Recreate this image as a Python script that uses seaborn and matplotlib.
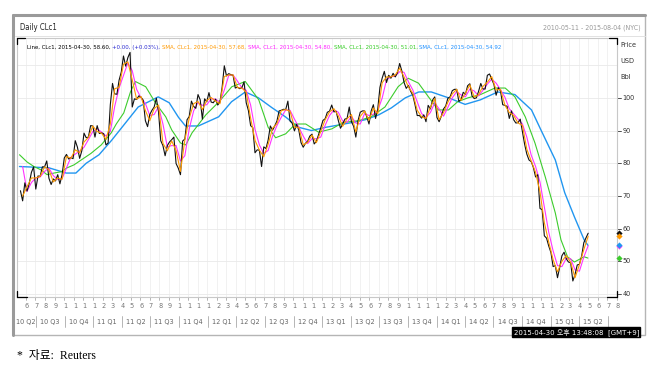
import matplotlib
matplotlib.use("Agg")
import matplotlib.pyplot as plt
import matplotlib.transforms as mtrans
from matplotlib.lines import Line2D
from matplotlib.patches import Rectangle
from matplotlib import font_manager
import pandas as pd
import seaborn as sns

# ---------------- data ----------------
price_2010 = [71.6, 68.5, 74.0, 71.5, 73.8, 77.2, 78.9, 72.1, 76.1, 76.0,
              78.9, 78.9, 80.7, 75.4, 73.5, 75.2, 74.6, 76.5, 73.7, 76.5,
              81.6, 82.7, 81.3, 81.7, 81.4, 86.9, 84.9, 81.5, 83.8, 89.2,
              87.8, 88.0, 91.5, 91.4]
price_2011 = [88.0, 91.5, 89.1, 89.3, 89.0, 85.6, 86.2, 97.9, 104.4, 101.2,
              101.1, 105.4, 107.9, 112.8, 109.7, 112.3, 113.9, 97.2, 99.7, 99.5,
              100.6, 100.2, 99.3, 93.0, 91.2, 94.9, 96.2, 97.2, 99.9, 95.7,
              86.9, 85.4, 82.3, 85.4, 86.5, 87.2, 88.0, 79.9, 78.5, 76.5,
              86.8, 87.4, 93.3, 94.3, 99.0, 97.4, 96.8, 101.0, 99.4, 93.5,
              99.7, 98.8]
price_2012 = [101.6, 98.7, 98.5, 99.6, 97.8, 98.7, 103.2, 109.8, 106.7, 107.4,
              107.1, 106.9, 103.0, 103.3, 102.8, 103.1, 104.9, 98.5, 96.1, 91.5,
              90.9, 83.2, 84.1, 84.0, 79.0, 85.0, 84.5, 87.1, 91.4, 90.1,
              91.4, 92.9, 96.0, 96.2, 96.5, 96.4, 99.0, 92.9, 92.2, 89.9,
              91.9, 90.1, 86.3, 84.9, 86.1, 86.7, 88.3, 88.9, 85.9, 86.7,
              88.7, 90.8]
price_2013 = [93.1, 93.6, 95.6, 95.9, 97.8, 95.7, 95.9, 93.1, 90.7, 92.0,
              93.5, 93.7, 97.2, 92.7, 91.3, 88.0, 93.0, 95.6, 96.0, 96.0,
              94.2, 92.0, 96.0, 97.9, 93.7, 96.6, 103.2, 106.0, 108.1, 104.7,
              106.9, 106.0, 107.5, 106.4, 107.7, 110.5, 108.2, 104.7, 102.9, 103.8,
              102.0, 100.8, 97.9, 94.6, 94.6, 93.8, 94.8, 92.7, 97.7, 96.6,
              99.3, 100.3]
price_2014 = [94.0, 92.7, 94.4, 96.6, 97.5, 99.9, 100.3, 102.2, 102.6, 102.6,
              98.9, 99.5, 101.7, 101.1, 103.7, 104.3, 100.6, 99.8, 100.0, 102.0,
              104.4, 102.7, 102.7, 106.9, 107.3, 105.7, 104.1, 100.8, 103.1, 102.1,
              97.9, 97.7, 97.4, 93.7, 96.0, 93.3, 92.3, 92.4, 93.5, 89.7,
              85.8, 82.8, 81.0, 80.5, 78.7, 75.8, 76.5, 66.2, 65.8, 57.8,
              57.1, 54.7]
price_2015 = [52.7, 48.4, 48.7, 45.0, 48.2, 51.7, 52.8, 50.8, 49.8, 49.6,
              44.0, 46.0, 48.9, 49.1, 51.6, 55.7, 57.2, 58.6]

# short SMA (orange), every second week
sma_orange = [70.0, 72.8, 75.5, 75.5, 76.0, 78.9, 78.0, 74.3, 75.5, 75.1, 82.1, 81.5, 84.1, 83.2, 86.5, 87.9, 91.4,
              89.7, 89.2, 87.3, 92.0, 102.8, 103.2, 110.3, 111.0, 105.5, 99.6, 100.4, 96.1, 93.0, 96.7, 97.8, 86.1,
              83.8, 86.8, 83.9, 77.5, 87.1, 93.8, 98.2, 98.9, 96.4, 99.2,
              100.1, 99.0, 98.2, 106.5, 107.0, 107.0, 103.1, 103.0, 101.7, 93.8, 87.0, 84.0, 82.0, 85.8, 90.7, 92.1,
              96.1, 96.4, 95.9, 91.0, 91.0, 85.6, 86.4, 88.6, 86.3, 89.7,
              93.3, 95.7, 96.7, 94.5, 91.3, 93.6, 94.9, 89.6, 94.3, 96.0, 93.1, 96.9, 95.1, 104.6, 106.4, 106.4,
              107.0, 109.1, 106.4, 103.3, 101.4, 96.2, 94.2, 93.7, 97.1, 99.8,
              93.3, 95.5, 98.7, 101.2, 102.6, 99.2, 101.4, 104.0, 100.2, 101.0, 103.5, 104.8, 106.5, 102.4, 102.6,
              97.8, 95.5, 94.6, 92.3, 91.6, 84.3, 80.7, 77.2, 71.3, 61.8, 55.9,
              50.5, 46.8, 50.0, 51.8, 49.7, 45.0, 49.0, 53.6, 57.68]
# medium SMA (magenta), every second week
sma_magenta = [79.0, 71.4, 74.1, 75.5, 75.8, 77.5, 78.5, 76.2, 75.0, 75.3, 78.6, 81.8, 82.8, 83.7, 84.9, 87.2, 89.7,
               90.6, 89.5, 88.3, 89.7, 97.4, 103.0, 106.8, 110.7, 108.3, 102.6, 100.0, 98.3, 94.6, 94.9, 97.3, 92.0,
               85.0, 85.4, 85.4, 80.7, 82.3, 90.5, 96.0, 98.6, 97.7, 97.9,
               99.7, 99.6, 98.7, 102.4, 106.8, 107.0, 105.1, 103.1, 102.3, 97.8, 90.4, 85.6, 83.0, 83.9, 88.3, 91.5,
               94.1, 96.3, 96.2, 93.5, 91.0, 88.3, 86.0, 87.5, 87.5, 88.0,
               91.6, 94.6, 96.3, 95.6, 92.9, 92.5, 94.3, 92.3, 92.0, 95.2, 94.6, 95.0, 96.1, 99.9, 105.5, 106.4,
               106.7, 108.0, 107.8, 104.9, 102.4, 98.8, 95.2, 94.0, 95.5, 98.5,
               96.6, 94.4, 97.1, 100.0, 101.9, 100.9, 100.3, 102.7, 102.1, 100.6, 102.3, 104.2, 105.7, 104.5, 102.5,
               100.2, 96.7, 95.1, 93.5, 92.0, 88.0, 82.5, 79.0, 74.3, 66.6, 58.9,
               53.2, 48.7, 48.4, 50.9, 50.8, 47.4, 47.0, 51.3, 54.80]

green_dates = ['2010-05-11', '2010-06-04', '2010-06-26', '2010-07-18', '2010-08-07', '2010-08-29',
               '2010-09-21', '2010-10-10', '2010-11-01', '2010-11-24', '2010-12-25', '2011-01-27',
               '2011-02-28', '2011-03-16', '2011-04-09', '2011-05-01', '2011-05-16', '2011-06-18',
               '2011-07-19', '2011-08-21', '2011-09-09', '2011-10-07', '2011-10-24', '2011-11-13',
               '2011-12-27', '2012-02-07', '2012-03-19', '2012-05-01', '2012-06-13', '2012-07-13',
               '2012-08-06', '2012-09-07', '2012-10-08', '2012-11-10', '2012-12-21', '2013-02-01',
               '2013-03-10', '2013-04-27', '2013-06-07', '2013-07-21', '2013-09-01', '2013-10-03',
               '2013-11-05', '2013-12-07', '2014-01-07', '2014-02-09', '2014-03-10', '2014-04-12',
               '2014-05-22', '2014-07-07', '2014-08-09', '2014-09-09', '2014-10-12', '2014-11-12',
               '2014-12-15', '2015-01-16', '2015-02-03', '2015-02-24', '2015-03-18', '2015-04-18',
               '2015-04-30']
green_vals = [82.6, 80.4, 79.0, 78.0, 76.5, 77.0,
              77.4, 78.6, 79.5, 81.0, 83.0, 85.6,
              89.3, 92.0, 95.4, 102.0, 105.0, 103.4,
              98.5, 94.2, 90.2, 86.2, 85.6, 89.3,
              94.8, 98.8, 103.4, 105.0, 99.4, 91.0,
              87.8, 89.0, 92.0, 92.0, 89.5, 90.5,
              92.5, 93.0, 94.2, 97.2, 103.4, 106.0,
              104.5, 100.3, 96.3, 96.3, 98.8, 100.0,
              101.0, 103.0, 103.0, 100.3, 94.2, 86.2,
              75.8, 64.8, 56.6, 51.4, 49.8, 51.4,
              51.01]

blue_dates = ['2010-05-11', '2010-08-13', '2010-10-07', '2010-11-07', '2010-12-10', '2011-01-20',
              '2011-03-01', '2011-04-15', '2011-05-25', '2011-07-28', '2011-09-01', '2011-10-01',
              '2011-10-23', '2011-12-03', '2012-02-06', '2012-03-18', '2012-05-01', '2012-06-12',
              '2012-07-25', '2012-09-06', '2012-10-18', '2012-11-28', '2013-01-13', '2013-02-24',
              '2013-04-04', '2013-05-19', '2013-07-01', '2013-08-10', '2013-09-24', '2013-11-06',
              '2013-12-16', '2014-02-09', '2014-04-03', '2014-05-22', '2014-07-16', '2014-09-09',
              '2014-11-01', '2014-12-01', '2015-01-16', '2015-02-15', '2015-03-18', '2015-04-18',
              '2015-04-30']
blue_vals = [79.0, 78.6, 77.0, 77.0, 80.0, 82.6,
             87.0, 92.4, 97.2, 100.3, 98.5, 94.0,
             91.4, 91.4, 94.2, 98.8, 101.8, 100.0,
             97.0, 94.2, 91.0, 90.0, 91.0, 91.7,
             92.4, 93.3, 94.8, 96.9, 100.0, 101.8,
             101.8, 100.0, 98.0, 99.4, 101.8, 101.0,
             96.3, 90.2, 81.0, 71.0, 63.6, 56.6,
             54.92]

y_ticks = [40, 50, 60, 70, 80, 90, 100]

price = price_2010 + price_2011 + price_2012 + price_2013 + price_2014 + price_2015
price_dates = pd.date_range('2010-05-14', periods=len(price), freq='W-FRI')
sma_dates = pd.date_range('2010-05-21', periods=len(sma_orange), freq='2W-FRI')

# ---------------- fonts ----------------
names = {f.name for f in font_manager.fontManager.ttflist}
NARROW = 'Liberation Sans Narrow' if 'Liberation Sans Narrow' in names else 'DejaVu Sans'
STRETCH = 'normal' if NARROW == 'Liberation Sans Narrow' else 'condensed'

sns.set_style('white')
plt.rcParams['font.family'] = [NARROW, 'DejaVu Sans']

W, H = 650, 370
fig = plt.figure(figsize=(6.5, 3.7), dpi=100)
fig.patch.set_facecolor('white')


def fx(px):
    return px / W


def fy(py):
    return 1 - py / H


L, R, TOP, BOT = 17, 617, 38, 297
ax = fig.add_axes([fx(L), fy(BOT), (R - L) / W, (BOT - TOP) / H])
ax.set_facecolor('white')

x0, x1 = pd.Timestamp('2010-05-03'), pd.Timestamp('2015-08-01')
ax.set_xlim(x0, x1)
ax.set_ylim(39.1, 118.3)

# grid
months = pd.date_range('2010-06-01', '2015-08-01', freq='MS')
for m in months:
    ax.axvline(m, color='#efefef', lw=0.6, zorder=0)
for v in list(range(40, 120, 10)):
    ax.axhline(v, color='#e9e9e9', lw=0.6, zorder=0)

# series
sns.lineplot(x=pd.to_datetime(blue_dates), y=blue_vals, ax=ax, color='#2196f0', lw=1.0, zorder=2)
sns.lineplot(x=pd.to_datetime(green_dates), y=green_vals, ax=ax, color='#3ccc2c', lw=0.8, zorder=3)
sns.lineplot(x=sma_dates, y=sma_magenta, ax=ax, color='#ff33ff', lw=0.8, zorder=4)
sns.lineplot(x=price_dates, y=price, ax=ax, color='#111111', lw=0.8, zorder=5)
sns.lineplot(x=sma_dates, y=sma_orange, ax=ax, color='#ff9900', lw=0.8, zorder=6)

ax.set_xticks([])
ax.set_yticks([])
ax.set_xlabel('')
ax.set_ylabel('')
for s in ax.spines.values():
    s.set_color('#c8c8c8')
    s.set_linewidth(0.8)

# current-value markers on right edge
bt = mtrans.blended_transform_factory(ax.transAxes, ax.transData)
for v, c in [(price[-1], '#111111'), (sma_orange[-1], '#ff9900'), (sma_magenta[-1], '#ff33ff'),
             (blue_vals[-1], '#2196f0'), (green_vals[-1], '#3ccc2c')]:
    ax.scatter([1.004], [v], transform=bt, marker='D', s=10, color=c, clip_on=False, zorder=10, linewidths=0)

# right axis ticks & labels
for v in y_ticks:
    ax.plot([1.0, 1.007], [v, v], transform=bt, color='#333333', lw=0.6, clip_on=False)
    ax.text(1.009, v, str(v), transform=bt, ha='left', va='center', fontsize=5.2, color='#333333',
            family=NARROW, stretch=STRETCH)
for txt, py in [('Price', 45), ('USD', 61), ('Bbl', 77)]:
    fig.text(fx(620), fy(py), txt, ha='left', va='center', fontsize=5.2, color='#333333',
             family=NARROW, stretch=STRETCH)

# month labels and quarter labels under the plot
bx = mtrans.blended_transform_factory(ax.transData, ax.transAxes)
for m in months:
    ax.plot([m, m], [0, -0.012], transform=bx, color='#999999', lw=0.5, clip_on=False)
    ax.text(m + pd.Timedelta(days=3), -0.036, str(m.month)[0], transform=bx, ha='center', va='center',
            fontsize=5.2, color='#777777', family=NARROW, stretch=STRETCH)
quarters = pd.period_range('2010Q2', '2015Q2', freq='Q')
for q in quarters:
    qs, qe = q.start_time, q.end_time
    a, b = max(qs, x0), min(qe, x1)
    mid = a + (b - a) / 2
    ax.text(mid, -0.096, f"{q.year % 100} Q{q.quarter}", transform=bx, ha='center', va='center',
            fontsize=5.2, color='#666666', family=NARROW, stretch=STRETCH)
    sep = qe + pd.Timedelta(days=1)
    if sep < x1:
        ax.plot([sep, sep], [-0.075, -0.115], transform=bx, color='#aaaaaa', lw=0.6, clip_on=False)

# black corner marks
for (xa, ya, xb, yb) in [(L, TOP, L + 8, TOP), (L, TOP, L, TOP + 6), (R - 8, TOP, R, TOP), (R, TOP, R, TOP + 6),
                         (L, BOT, L + 10, BOT), (L, BOT, L, BOT - 6), (R - 10, BOT, R, BOT), (R, BOT, R, BOT - 6)]:
    fig.add_artist(Line2D([fx(xa), fx(xb)], [fy(ya), fy(yb)], color='black', lw=0.9))

# outer panel frame and header
fig.add_artist(Rectangle((fx(13), fy(335)), fx(645) - fx(13), fy(15) - fy(335), fill=False,
                         edgecolor='#b5b5b5', lw=1.0))
fig.add_artist(Line2D([fx(13), fx(645)], [fy(15), fy(15)], color='#9a9a9a', lw=2.2))
fig.add_artist(Line2D([fx(13), fx(13)], [fy(15), fy(335)], color='#9a9a9a', lw=2.2))
fig.add_artist(Line2D([fx(15), fx(645)], [fy(36), fy(36)], color='#e2e2e2', lw=0.7))
fig.text(fx(20), fy(28), 'Daily CLc1', ha='left', va='center', fontsize=5.6, color='#222222',
         family=NARROW, stretch=STRETCH)
fig.text(fx(641), fy(28), '2010-05-11 - 2015-08-04 (NYC)', ha='right', va='center', fontsize=5.0,
         color='#999999', family=NARROW, stretch=STRETCH)

# legend line, drawn as coloured segments
segs = [(f"Line, CLc1, 2015-04-30, {price[-1]:.2f}, ", '#000000'),
        ("+0.00, (+0.03%), ", '#2a2ad0'),
        (f"SMA, CLc1, 2015-04-30, {sma_orange[-1]:.2f}, ", '#ff9900'),
        (f"SMA, CLc1, 2015-04-30, {sma_magenta[-1]:.2f}, ", '#ff22ff'),
        (f"SMA, CLc1, 2015-04-30, {green_vals[-1]:.2f}, ", '#33cc22'),
        (f"SMA, CLc1, 2015-04-30, {blue_vals[-1]:.2f}", '#1e90ff')]
renderer = fig.canvas.get_renderer()
probe = fig.text(0, 0, ''.join(s for s, _ in segs), fontsize=6, family=NARROW, stretch=STRETCH)
wpx = probe.get_window_extent(renderer).width
probe.remove()
lsize = max(4.3, min(5.6, 6 * 420 / wpx))
xpos = 27
for s, c in segs:
    t = fig.text(fx(xpos), fy(47), s, ha='left', va='center', fontsize=lsize, color=c,
                 family=NARROW, stretch=STRETCH)
    xpos += t.get_window_extent(renderer).width

# time stamp box (sits on the bottom border, below the quarter labels)
fig.text(fx(639), fy(332), '2015-04-30 오후 13:48:08  [GMT+9]', ha='right', va='center', fontsize=5.0,
         color='white', family=[NARROW, 'Noto Sans CJK KR'], zorder=20,
         bbox=dict(facecolor='black', edgecolor='black', boxstyle='square,pad=0.2'))

# source note
fig.text(fx(17), fy(356), '*  자료:  Reuters', ha='left', va='center', fontsize=8.5, color='black',
         family=['Liberation Serif', 'Noto Sans CJK KR'])

fig.savefig('out.png', dpi=100, facecolor='white')
